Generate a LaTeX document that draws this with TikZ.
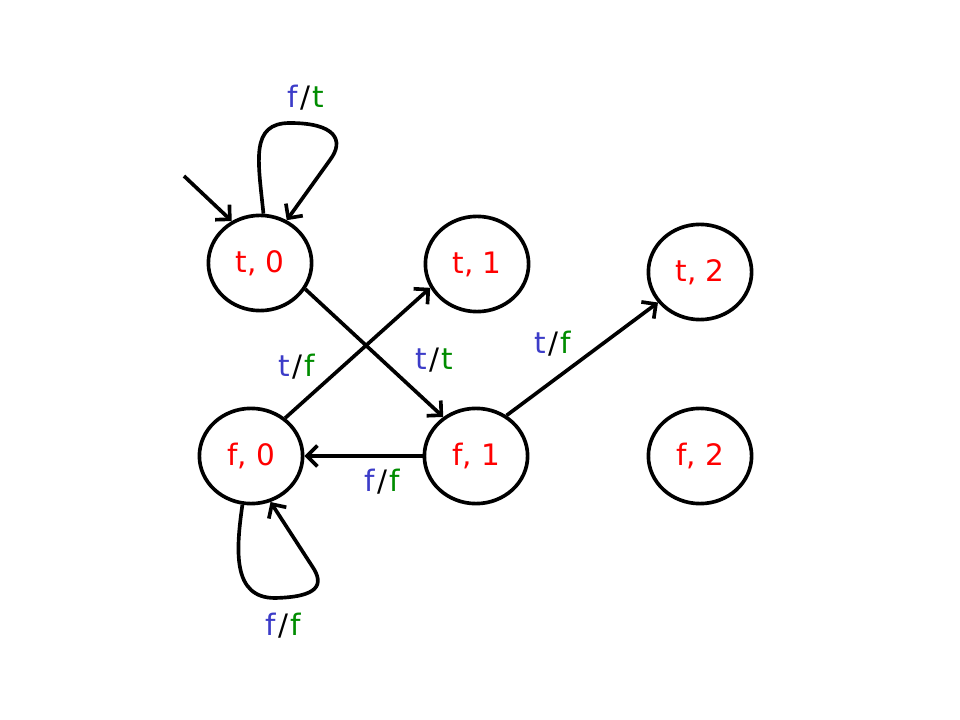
\documentclass[tikz,border=0pt]{standalone}
\usepackage{fontspec}
\setmainfont{DejaVu Sans}
\usepackage{xcolor}
\usetikzlibrary{positioning, calc, arrows.meta, shapes.geometric}
\definecolor{inblue}{RGB}{60,60,200}
\definecolor{outgreen}{RGB}{0,140,0}
\newcommand{\io}[2]{\textcolor{inblue}{#1}\kern1.5pt/\kern1.5pt\textcolor{outgreen}{#2}}

\begin{document}
\begin{tikzpicture}[x=0.025cm,y=-0.025cm,
    state/.style={draw,ellipse,line width=2.6pt,minimum width=2.58cm,minimum height=2.38cm,text=red,font=\fontsize{21}{23}\selectfont},
    lbl/.style={font=\fontsize{21}{23}\selectfont},
    edge/.style={line width=2.6pt,line join=round,-{Straight Barb[length=2.6mm,width=5.2mm]}}]
      \useasboundingbox (0,0) rectangle (960,720);
      \node[state] (t0) at (260,263) {t, 0};%上段
      \node[state] (t1) at (477,264) {t, 1};
      \node[state] (t2) at (700,272) {t, 2};
      \node[state] (f0) at (251,456) {f, 0};%下段
      \node[state] (f1) at (476,456) {f, 1};
      \node[state] (f2) at (700,456) {f, 2};
      \coordinate (start) at (184,176);
      \draw[edge] (start) -- (t0.124);%初期状態
      \draw[edge] (t0.86) .. controls (258,160) and (250,123) .. (290,123) .. controls (335,123) and (345,140) .. (330,160) -- (t0.58);
      \draw[edge] (t0.-30) -- (f1.130);
      \draw[edge] (f0.48) -- (t1.207);
      \draw[edge] (f1.180) -- (f0.0);
      \draw[edge] (f1.53) -- (t2.216);
      \draw[edge] (f0.260) .. controls (236,550) and (232,598) .. (275,598) .. controls (318,597) and (325,585) .. (312,566) -- (f0.293);
      \node[lbl] (l00) at (306,98) {\io{f}{t}};%ラベル
      \node[lbl] (l01) at (297,367) {\io{t}{f}};
      \node[lbl] (l02) at (434,360) {\io{t}{t}};
      \node[lbl] (l03) at (553,344) {\io{t}{f}};
      \node[lbl] (l04) at (382,482) {\io{f}{f}};
      \node[lbl] (l05) at (283,626) {\io{f}{f}};
    \end{tikzpicture}
\end{document}
